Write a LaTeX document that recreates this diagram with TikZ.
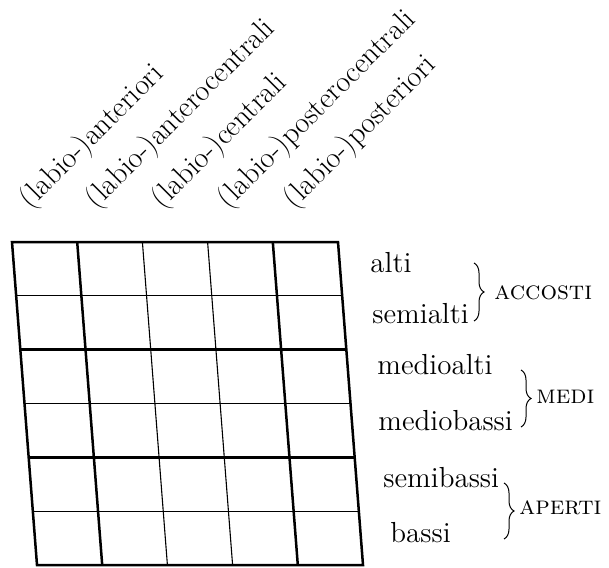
\documentclass[tikz,border=0pt]{standalone}
\usetikzlibrary{decorations.pathreplacing}
\tikzset{
  thickline/.style={line width=1.25pt},
  thinline/.style={line width=0.55pt},
  rowlabel/.style={anchor=base west, inner sep=0pt, font=\fontsize{14.5}{17}\selectfont},
  collabel/.style={anchor=south west, rotate=45, inner sep=0pt, font=\fontsize{15}{18}\selectfont},
  grouplabel/.style={anchor=west, inner sep=0pt, font=\fontsize{13}{15}\selectfont\scshape},
  groupbrace/.style={decorate, decoration={brace, amplitude=5pt}, line width=0.5pt}
}
\begin{document}
\begin{tikzpicture}[x=0.5pt,y=-0.5pt]
  \useasboundingbox (0,0) rectangle (609,567);
  \draw
    (36,215) node[collabel] (ant){(labio-)anteriori}
    (102,215) node[collabel] (antcen){(labio-)anterocentrali}
    (168,215) node[collabel] (cen){(labio-)centrali}
    (234,215) node[collabel] (postcen){(labio-)posterocentrali}
    (300,215) node[collabel] (post){(labio-)posteriori};
  \begin{scope}[thinline]
    \foreach \i in {2,3}
      \draw ({12+65.2*\i},242) -- ({37+65.2*\i},565);
    \foreach \j in {1,3,5}
      \draw ({12+25*\j/6},{242+53.83*\j}) -- ({338+25*\j/6},{242+53.83*\j});
  \end{scope}
  \begin{scope}[thickline]
    \draw (12,242) -- (338,242) -- (363,565) -- (37,565) -- cycle;
    \foreach \i in {1,4}
      \draw ({12+65.2*\i},242) -- ({37+65.2*\i},565);
    \foreach \j in {2,4}
      \draw ({12+25*\j/6},{242+53.83*\j}) -- ({338+25*\j/6},{242+53.83*\j});
  \end{scope}
  \draw
    (370,272) node[rowlabel] (alti){alti}
    (372,323) node[rowlabel] (semialti){semialti}
    (377,374) node[rowlabel] (medioalti){medioalti}
    (378,430) node[rowlabel] (mediobassi){mediobassi}
    (383,487) node[rowlabel] (semibassi){semibassi}
    (390,542) node[rowlabel] (bassi){bassi};
  \coordinate (acc top) at (474,263);
  \coordinate (acc bot) at (474,321);
  \coordinate (med top) at (521,370);
  \coordinate (med bot) at (521,427);
  \coordinate (ape top) at (504,483);
  \coordinate (ape bot) at (504,539);
  \draw[groupbrace] (acc top) -- (acc bot);
  \draw[groupbrace] (med top) -- (med bot);
  \draw[groupbrace] (ape top) -- (ape bot);
  \draw
    (494,293) node[grouplabel] (accosti){accosti}
    (536,397) node[grouplabel] (medi){medi}
    (519,508) node[grouplabel] (aperti){aperti};
\end{tikzpicture}
\end{document}
